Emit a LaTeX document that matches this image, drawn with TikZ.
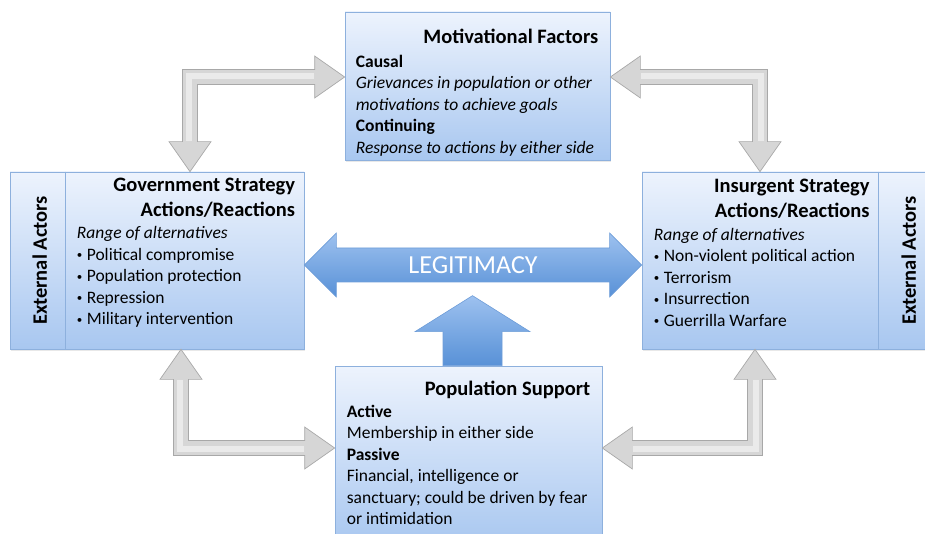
\documentclass[tikz,border=0pt]{standalone}
\usepackage{fontspec}
\setmainfont{Carlito}
\usetikzlibrary{calc,shadows}

\definecolor{boxtop}{HTML}{EDF3FD}
\definecolor{boxbot}{HTML}{A8C7F0}
\definecolor{boxline}{HTML}{8DB0DD}
\definecolor{arrtop}{HTML}{9DC1EF}
\definecolor{arrbot}{HTML}{5891D7}
\definecolor{arrline}{HTML}{6E9DD8}
\definecolor{grayfill}{HTML}{D6D6D6}
\definecolor{grayline}{HTML}{A8A8A8}

\newcommand{\blt}{\raisebox{1.2pt}{\fontsize{11}{11}\selectfont•}\hspace{4.5pt}}

% bent double arrow: #1 tip on the vertical arm, #2 tip on the horizontal arm
\newcommand{\bentarrow}[2]{%
  \path[grayarrow] let \p1=#1, \p2=#2,
    \n1={sign(\y1-\y2)}, \n2={sign(\x2-\x1)} in
    (\x1,\y1) -- ({\x1+(\n2)*21pt},{\y1-(\n1)*30pt})
    -- ({\x1+(\n2)*7.5pt},{\y1-(\n1)*30pt})
    -- ({\x1+(\n2)*7.5pt},{\y2+(\n1)*7.5pt})
    -- ({\x2-(\n2)*30pt},{\y2+(\n1)*7.5pt})
    -- ({\x2-(\n2)*30pt},{\y2+(\n1)*21pt})
    -- (\x2,\y2)
    -- ({\x2-(\n2)*30pt},{\y2-(\n1)*21pt})
    -- ({\x2-(\n2)*30pt},{\y2-(\n1)*7.5pt})
    -- ({\x1-(\n2)*7.5pt},{\y2-(\n1)*7.5pt})
    -- ({\x1-(\n2)*7.5pt},{\y1-(\n1)*30pt})
    -- ({\x1-(\n2)*21pt},{\y1-(\n1)*30pt}) -- cycle;
  % highlight along the shaft
  \draw[grayhi] let \p1=#1, \p2=#2,
    \n1={sign(\y1-\y2)}, \n2={sign(\x2-\x1)} in
    ({\x1-(\n2)*1pt},{\y1-(\n1)*31pt}) -- ({\x1-(\n2)*1pt},{\y2-(\n1)*1pt})
    -- ({\x2-(\n2)*31pt},{\y2-(\n1)*1pt});}

\begin{document}
\begin{tikzpicture}[x=1pt,y=1pt,
  box/.style={draw=boxline,line width=0.7pt,top color=boxtop,bottom color=boxbot,
    drop shadow={shadow xshift=1.2pt,shadow yshift=-1.8pt,opacity=0.18}},
  head/.style={font=\bfseries\fontsize{20.5}{25}\selectfont,align=right,inner sep=0pt,anchor=north east},
  body/.style={font=\fontsize{17.5}{21.5}\selectfont,align=left,inner sep=0pt,anchor=north west},
  sidelabel/.style={font=\bfseries\fontsize{20.5}{21}\selectfont,rotate=90,inner sep=0pt},
  grayarrow/.style={fill=grayfill,draw=grayline,line width=0.7pt,line join=miter},
  grayhi/.style={white,opacity=0.5,line width=6pt},
  bluearrow/.style={top color=arrtop,bottom color=arrbot,draw=arrline,line width=0.6pt}]
\clip (0,0) rectangle (925,533);
% ---------- boxes ----------
\node[box,minimum width=265pt,minimum height=148pt] (motiv) at (477.5,447) {};
\node[box,minimum width=294pt,minimum height=177pt] (gov) at (157,272.5) {};
\node[box,minimum width=293pt,minimum height=177pt] (insurg) at (788.5,272.5) {};
\node[box,minimum width=267pt,minimum height=180pt] (pop) at (468.5,77) {};
% external actors strips
\draw[boxline,line width=0.7pt] ([xshift=56pt]gov.north west) -- ([xshift=56pt]gov.south west);
\draw[boxline,line width=0.7pt] ([xshift=237pt]insurg.north west) -- ([xshift=237pt]insurg.south west);
\node[sidelabel] (govext) at ([xshift=30pt]gov.west) {External Actors};
\node[sidelabel] (insext) at ([xshift=267pt]insurg.west) {External Actors};
% ---------- texts ----------
\node[head] (motivT) at ([shift={(-12pt,-17pt)}]motiv.north east) {Motivational Factors};
\node[body] (motivB) at ([shift={(11pt,-43pt)}]motiv.north west)
  {\textbf{Causal}\\\textit{Grievances in population or other}\\\textit{motivations to achieve goals}\\
   \textbf{Continuing}\\\textit{Response to actions by either side}};
\node[head] (govT) at ([shift={(-9pt,-6pt)}]gov.north east) {Government Strategy\\Actions/Reactions};
\node[body] (govB) at ([shift={(67pt,-54.5pt)}]gov.north west)
  {\textit{Range of alternatives}\\\blt Political compromise\\\blt Population protection\\\blt Repression\\\blt Military intervention};
\node[head] (insT) at ([shift={(228pt,-7pt)}]insurg.north west) {Insurgent Strategy\\Actions/Reactions};
\node[body] (insB) at ([shift={(12pt,-56pt)}]insurg.north west)
  {\textit{Range of alternatives}\\\blt Non-violent political action\\\blt Terrorism\\\blt Insurrection\\\blt Guerrilla Warfare};
\node[head] (popT) at ([shift={(-12pt,-15pt)}]pop.north east) {Population Support};
\node[body] (popB) at ([shift={(12pt,-39pt)}]pop.north west)
  {\textbf{Active}\\Membership in either side\\\textbf{Passive}\\Financial, intelligence or\\
   sanctuary; could be driven by fear\\or intimidation};
% ---------- grey bent arrows ----------
\bentarrow{(gov.north -| 190,0)}{(motiv.west |- 0,456)}
\bentarrow{(insurg.north -| 760,0)}{(motiv.east |- 0,456)}
\bentarrow{(gov.south -| 181,0)}{(pop.west |- 0,85)}
\bentarrow{(insurg.south -| 755,0)}{(pop.east |- 0,85)}
% ---------- legitimacy ----------
\path[bluearrow] let \p1=(gov.east |- 0,268), \p2=(insurg.west |- 0,268) in
  (\p1) -- (\x1+32pt,\y1+32pt) -- (\x1+32pt,\y1+17pt) -- (\x2-32pt,\y2+17pt) -- (\x2-32pt,\y2+32pt)
  -- (\p2) -- (\x2-32pt,\y2-32pt) -- (\x2-32pt,\y2-17pt) -- (\x1+32pt,\y1-17pt) -- (\x1+32pt,\y1-32pt) -- cycle;
\node[text=white,font=\fontsize{26}{26}\selectfont,inner sep=0pt] (legit)
  at ($(gov.east |- 0,268)!0.5!(insurg.west |- 0,268)$) {LEGITIMACY};
% support pushes legitimacy
\path[bluearrow] let \p1=(pop.north -| 472.5,0) in
  (\x1-29.5pt,\y1) -- (\x1-29.5pt,\y1+34pt) -- (\x1-57.5pt,\y1+34pt) -- (\x1,\y1+70pt)
  -- (\x1+57.5pt,\y1+34pt) -- (\x1+29.5pt,\y1+34pt) -- (\x1+29.5pt,\y1) -- cycle;
\end{tikzpicture}
\end{document}
